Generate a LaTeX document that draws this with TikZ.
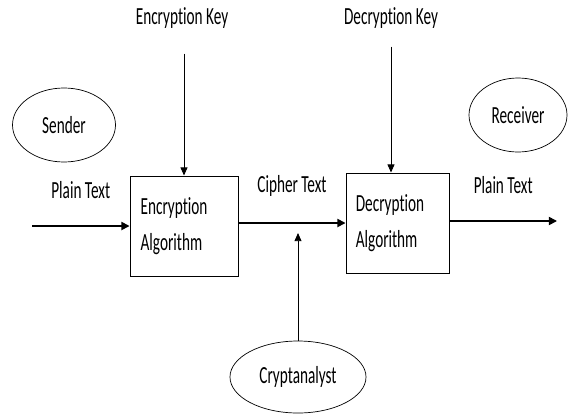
\documentclass[tikz,border=0pt]{standalone}
\usepackage{fontspec}
\setmainfont{Carlito}[FakeStretch=0.62, Ligatures=NoCommon]
\usepackage{tikz}
\usetikzlibrary{positioning, quotes}
\usetikzlibrary{arrows.meta,shapes}

\begin{document}
\begin{tikzpicture}
        [
        x=0.03cm, y=-0.03cm,
        every node/.style = {font=\fontsize{21}{31}\selectfont},
        every edge quotes/.style = {anchor=south, yshift=19pt},
        algo/.style = {draw, line width=0.8pt, minimum height=3cm, align=left, inner sep=0pt},
        party/.style = {draw, ellipse, line width=0.6pt, inner sep=0pt},
        flow/.style = {draw, line width=1.4pt, -{Triangle[length=7pt,width=7pt]}},
        key/.style = {line width=0.8pt, -{Triangle[length=7pt,width=6pt]}}
        ]
    \useasboundingbox (0,0) rectangle (568,416);

    \node[algo, minimum width=3.24cm, text width=2.6cm] (enc) at (184,226) {Encryption\\Algorithm};
    \node[algo, minimum width=3.09cm, text width=2.5cm] (dec) at (397.5,223) {Decryption\\Algorithm};
    \node[party, minimum width=3.09cm, minimum height=2.22cm] (sender) at (64,125) {Sender};
    \node[party, minimum width=2.94cm, minimum height=2.22cm] (receiver) at (518,115) {Receiver};
    \node[party, minimum width=4.08cm, minimum height=2.16cm] (crypt) at (298,377) {Cryptanalyst};
    \node[] (enckey) at (182,18) {Encryption Key};
    \node[] (deckey) at (391,18) {Decryption Key};
    \coordinate (in) at (32,226);
    \coordinate (out) at (557,221);
    \coordinate (tap) at (298,233);

    \draw[key, shorten <=18pt] (enckey.south -| enc.north) -- (enc.north);
    \draw[key, shorten <=12pt] (deckey.south) -- (deckey.south |- dec.north);
    \path (in) edge[flow, "Plain Text"] (in -| enc.west);
    \path (enc.east |- dec) edge[flow, "Cipher Text"] (dec.west);
    \path (dec.east |- out) edge[flow, "Plain Text"] (out);
    \draw[key] (crypt.north) -- (tap);
    \end{tikzpicture}
\end{document}
